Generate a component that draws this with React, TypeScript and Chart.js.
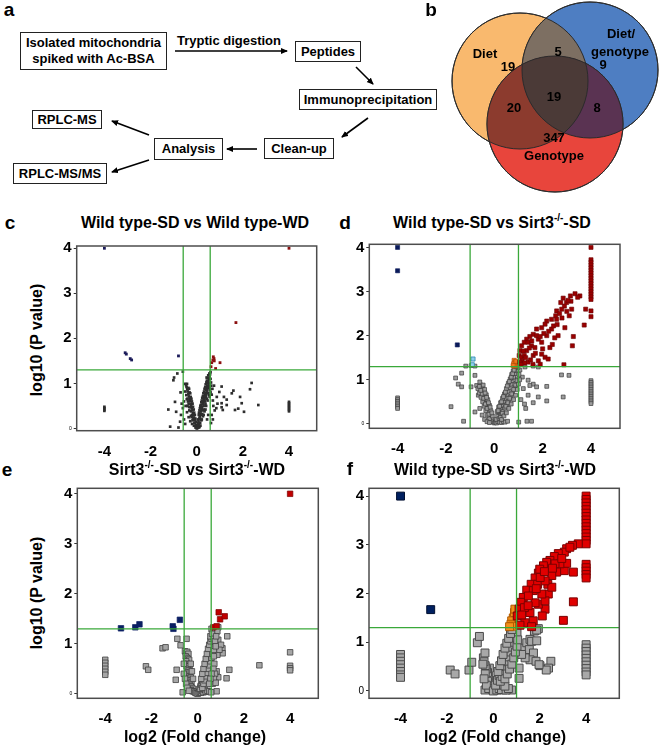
import React, { useEffect, useRef } from 'react';
import { Chart, registerables } from 'chart.js';
Chart.register(...registerables);

type Pt = [number, number];

const FONT = '"Liberation Sans", Arial, Helvetica, sans-serif';
const X_TICKS = [-4, -2, 0, 2, 4];
const Y_TICKS = [0, 1, 2, 3, 4];
const P_CUT = 1.3;
const FC_CUT_SMALL = 0.585;
const FC_CUT_LARGE = 1;

// ---------- Venn data ----------
const VENN_SETS = ['Diet', 'Diet/genotype', 'Genotype'];
// region counts: diet only, diet∩dg, dg only, diet∩geno, all, dg∩geno, geno only
const VENN_COUNTS = [19, 5, 9, 20, 19, 8, 347];

// ---------- Panel c: Wild type-SD vs Wild type-WD ----------
const C_DOWN: Pt[] = [[-4, 4.0], [-3.1, 1.68], [-3.05, 1.65], [-2.88, 1.55], [-2.82, 1.52], [-0.79, 1.61]];
const C_UP: Pt[] = [[4, 4.0], [1.7, 2.35], [0.72, 1.59], [0.75, 1.55], [0.76, 1.5], [0.65, 1.46], [1.01, 1.46], [0.82, 1.33], [0.62, 1.37], [0.7, 1.52]];
const C_NS: Pt[] = [
  [-4, 0.48], [-4, 0.45], [-4, 0.42], [-4, 0.39],
  [4, 0.59], [4, 0.56], [4, 0.53], [4, 0.5], [4, 0.47], [4, 0.44], [4, 0.41], [4, 0.38],
  [-1.23, 0.42], [-1.15, 0.04], [-1.01, 1.07], [-0.98, 1.13], [-0.94, 0.59], [-0.89, 0.37], [-0.84, 1.22], [-0.79, 0.02],
  [-0.72, 0.15], [-0.6, 1.26], [-0.68, 0.3], [-0.65, 0.55], [-0.7, 0.8], [-0.5, 0.99], [-0.42, 0.99], [-0.55, 0.6],
  [-0.6, 0.45], [-0.55, 0.2], [-0.5, 0.1],
  [-0.02, 0.03], [-0.04, 0.08], [-0.07, 0.13], [-0.09, 0.19], [-0.12, 0.24], [-0.14, 0.29], [-0.16, 0.34], [-0.19, 0.4],
  [-0.21, 0.45], [-0.24, 0.5], [-0.26, 0.55], [-0.29, 0.61], [-0.31, 0.66], [-0.34, 0.71], [-0.36, 0.76], [-0.39, 0.82],
  [-0.41, 0.87], [-0.44, 0.92], [-0.46, 0.96],
  [-0.1, 0.12], [-0.15, 0.2], [-0.2, 0.3], [-0.25, 0.38], [-0.3, 0.47], [-0.35, 0.55], [-0.4, 0.66], [-0.45, 0.74], [-0.5, 0.82],
  [-0.05, 0.02], [-0.12, 0.06], [-0.2, 0.1], [-0.28, 0.16], [-0.35, 0.25], [-0.42, 0.36], [-0.48, 0.5],
  [-0.08, 0.3], [-0.13, 0.42], [-0.18, 0.55], [-0.23, 0.66], [-0.28, 0.78], [-0.33, 0.88], [-0.22, 0.25], [-0.32, 0.4],
  [-0.03, 0.15], [-0.06, 0.22], [-0.11, 0.35], [-0.16, 0.48], [-0.21, 0.6], [-0.26, 0.7], [-0.31, 0.8], [-0.36, 0.9],
  [-0.18, 0.18], [-0.25, 0.28], [-0.33, 0.48], [-0.38, 0.6], [-0.43, 0.65], [-0.4, 0.5],
  [0.0, 0.0], [0.04, 0.01], [0.08, 0.02], [0.12, 0.03], [0.16, 0.06], [0.02, 0.04], [0.06, 0.06], [0.1, 0.08],
  [0.03, 0.07], [0.06, 0.12], [0.08, 0.17], [0.11, 0.22], [0.13, 0.27], [0.16, 0.33], [0.18, 0.38], [0.21, 0.43],
  [0.23, 0.48], [0.26, 0.54], [0.28, 0.59], [0.31, 0.64], [0.33, 0.69], [0.36, 0.74], [0.38, 0.79], [0.41, 0.85],
  [0.43, 0.9], [0.46, 0.95], [0.48, 1.0], [0.51, 1.05], [0.53, 1.1], [0.56, 1.15], [0.58, 1.2], [0.6, 1.25],
  [0.15, 0.22], [0.2, 0.3], [0.25, 0.4], [0.3, 0.5], [0.35, 0.6], [0.4, 0.7], [0.45, 0.8], [0.5, 0.9], [0.55, 1.0], [0.6, 1.1],
  [0.2, 0.18], [0.27, 0.27], [0.34, 0.38], [0.41, 0.5], [0.47, 0.62], [0.53, 0.74], [0.58, 0.86], [0.63, 0.95],
  [0.18, 0.52], [0.22, 0.62], [0.27, 0.72], [0.32, 0.82], [0.37, 0.92], [0.42, 1.02], [0.47, 1.12],
  [0.1, 0.35], [0.14, 0.45], [0.24, 0.32], [0.3, 0.42], [0.38, 0.55], [0.44, 0.66], [0.5, 0.78], [0.56, 0.9],
  [0.05, 0.2], [0.09, 0.3], [0.12, 0.4], [0.16, 0.5], [0.2, 0.58], [0.24, 0.68], [0.29, 0.78], [0.34, 0.88],
  [0.39, 0.98], [0.44, 1.06], [0.5, 1.18], [0.52, 0.95], [0.46, 0.85], [0.4, 0.75], [0.34, 0.65], [0.28, 0.55],
  [0.22, 0.45], [0.15, 0.12], [0.22, 0.2], [0.3, 0.3], [0.38, 0.42], [0.56, 0.7], [0.6, 0.8], [0.62, 1.02],
  [0.65, 0.75], [0.7, 0.62], [0.72, 0.5], [0.78, 0.4], [0.68, 0.88], [0.75, 0.95], [0.85, 0.45], [0.9, 0.55],
  [0.98, 0.81], [0.87, 0.7], [1.08, 0.93], [1.18, 0.7], [1.3, 0.64], [1.08, 0.56], [1.08, 0.47], [1.13, 0.41],
  [1.3, 0.52], [1.52, 0.78], [1.59, 0.84], [1.66, 0.41], [1.8, 0.44], [1.88, 0.7], [1.95, 0.56], [2.05, 0.37],
  [2.31, 0.87], [2.38, 1.01], [2.67, 0.52], [0.43, 1.13], [0.55, 1.22], [0.65, 0.3], [0.7, 0.2], [0.62, 0.12],
  [0.5, 0.3], [0.45, 0.2],
];

// ---------- Panel d: Wild type-SD vs Sirt3-/- -SD ----------
const D_DOWN: Pt[] = [[-4, 4.0], [-4, 3.47], [-1.53, 1.79]];
const D_DOWN_LIGHT: Pt[] = [[-0.88, 1.47], [-0.91, 1.34]];
const D_MID: Pt[] = [[0.82, 1.44], [0.86, 1.4], [0.8, 1.36], [0.88, 1.33], [0.84, 1.31], [0.9, 1.42], [0.78, 1.32]];
const D_UP: Pt[] = [
  [4, 4.0], [4, 3.72], [4, 3.66], [4, 3.6], [4, 3.54], [4, 3.48], [4, 3.42], [4, 3.36], [4, 3.3], [4, 3.24],
  [4, 3.18], [4, 3.12], [4, 3.06], [4, 3.0], [4, 2.94], [4, 2.88], [4, 2.82], [4, 2.56], [4, 2.43],
  [3.34, 2.95], [3.54, 2.9], [3.45, 2.87], [3.17, 2.78], [2.99, 2.75], [3.05, 2.8], [2.9, 2.67], [2.79, 2.6],
  [2.58, 2.56], [2.54, 2.45], [2.37, 2.37], [2.17, 2.33], [2.1, 2.26], [1.96, 2.18], [1.75, 2.15], [1.61, 2.03],
  [1.47, 1.98], [1.34, 1.92], [1.24, 1.85], [1.13, 1.77], [1.06, 1.66], [1.03, 1.55], [1.13, 1.51], [3.78, 2.6],
  [3.72, 2.24], [3.27, 1.98], [3.23, 1.77], [2.88, 1.34], [2.1, 1.51], [2.23, 1.47], [1.82, 1.43], [1.61, 1.55],
  [1.4, 1.4], [1.96, 1.58], [2.3, 1.73], [2.64, 2.0], [2.92, 2.18], [2.58, 2.37], [2.37, 2.15], [2.17, 2.0],
  [1.82, 1.92], [1.54, 1.77], [1.34, 1.66], [1.24, 1.55], [1.68, 1.73], [1.96, 1.85], [1.75, 2.0], [1.4, 1.85],
  [2.7, 2.5], [2.8, 2.4], [3.0, 2.55], [3.1, 2.45], [2.45, 2.22], [2.25, 2.1], [2.05, 2.05], [1.9, 1.98],
  [1.55, 1.88], [1.45, 1.72], [1.2, 1.65], [1.15, 1.42], [1.25, 1.38], [1.5, 1.45], [1.7, 1.6], [2.0, 1.7],
  [2.4, 1.8], [2.5, 1.95], [1.05, 1.4], [1.1, 1.35], [1.3, 1.5], [1.6, 1.35], [1.9, 1.35], [2.6, 2.25],
  [3.2, 2.6], [2.75, 2.75], [2.85, 2.85], [3.15, 2.9],
];
const D_NS: Pt[] = [
  [-4, 0.59], [-4, 0.55], [-4, 0.51], [-4, 0.47], [-4, 0.43], [-4, 0.39], [-4, 0.35],
  [4, 0.98], [4, 0.94], [4, 0.9], [4, 0.86], [4, 0.82], [4, 0.78], [4, 0.74], [4, 0.7], [4, 0.66], [4, 0.62],
  [4, 0.58], [4, 0.54], [4, 0.5], [4, 0.46],
  [-1.79, 0.39], [-1.6, 1.04], [-1.49, 0.9], [-1.35, 1.15], [-1.35, 0.84], [-1.27, 0.06], [-1.18, 1.31], [-0.96, 1.32],
  [-0.96, 0.84], [-0.8, 1.1], [-0.8, 0.27], [-0.73, 0.87], [-0.66, 0.65], [1.01, 0.04], [1.35, 0.06], [1.54, 0.06],
  [1.3, 0.35], [1.61, 0.48], [2.17, 0.52], [1.82, 0.61], [2.17, 0.85], [1.61, 0.9], [1.75, 0.84], [1.47, 0.87],
  [1.4, 0.99], [1.16, 1.06], [1.06, 1.22], [1.27, 1.29], [1.61, 1.31], [1.82, 1.29], [2.78, 1.11], [3.09, 1.1],
  [2.85, 0.61], [1.4, 0.65], [1.2, 0.8], [1.1, 0.55], [1.25, 0.45], [-0.8, 1.31],
  [-0.05, 0.05], [-0.1, 0.12], [-0.15, 0.2], [-0.2, 0.3], [-0.25, 0.38], [-0.3, 0.46], [-0.35, 0.55], [-0.4, 0.63],
  [-0.45, 0.72], [-0.5, 0.8], [-0.55, 0.88], [-0.6, 0.95],
  [-0.12, 0.05], [-0.2, 0.12], [-0.28, 0.2], [-0.35, 0.3], [-0.42, 0.4], [-0.48, 0.5], [-0.55, 0.6], [-0.62, 0.7], [-0.68, 0.8],
  [-0.08, 0.18], [-0.14, 0.3], [-0.2, 0.42], [-0.27, 0.55], [-0.33, 0.66], [-0.4, 0.78], [-0.46, 0.88],
  [-0.22, 0.22], [-0.3, 0.35], [-0.37, 0.45], [-0.44, 0.58], [-0.5, 0.68], [-0.56, 0.76], [-0.62, 0.85],
  [-0.1, 0.25], [-0.17, 0.38], [-0.24, 0.48], [-0.32, 0.6], [-0.38, 0.7],
  [-0.5, 0.2], [-0.6, 0.35], [-0.4, 0.1], [-0.3, 0.05],
  [0, 0.02], [0.05, 0.03], [0.1, 0.02], [0.15, 0.05], [0.22, 0.04], [0.3, 0.03], [0.38, 0.05], [0.45, 0.04], [0.55, 0.06], [-0.2, 0.03],
  [0.08, 0.1], [0.14, 0.18], [0.2, 0.26], [0.26, 0.34], [0.32, 0.42], [0.38, 0.5], [0.44, 0.58], [0.5, 0.66],
  [0.56, 0.74], [0.62, 0.82], [0.68, 0.9], [0.74, 0.98], [0.8, 1.06], [0.86, 1.14], [0.92, 1.22], [0.98, 1.28],
  [0.2, 0.12], [0.28, 0.2], [0.36, 0.28], [0.44, 0.36], [0.52, 0.44], [0.6, 0.52], [0.68, 0.62], [0.76, 0.72],
  [0.84, 0.82], [0.9, 0.92], [0.96, 1.02], [1.02, 1.12],
  [0.12, 0.28], [0.18, 0.38], [0.26, 0.48], [0.34, 0.58], [0.42, 0.68], [0.5, 0.8], [0.58, 0.92], [0.66, 1.02],
  [0.72, 1.12], [0.78, 1.2], [0.85, 1.26],
  [0.16, 0.3], [0.22, 0.4], [0.3, 0.5], [0.38, 0.62], [0.46, 0.72], [0.54, 0.86], [0.62, 0.96], [0.7, 1.06],
  [0.76, 1.14], [0.82, 1.22], [0.9, 1.3], [0.25, 0.15], [0.33, 0.24], [0.48, 0.4], [0.56, 0.48], [0.64, 0.58],
  [0.72, 0.68], [0.8, 0.78], [0.88, 0.88], [0.94, 0.98],
  [0.3, 0.1], [0.4, 0.18], [0.5, 0.25], [0.6, 0.35], [0.7, 0.45], [0.8, 0.55], [0.88, 0.65], [0.95, 0.78], [1.0, 0.9], [1.05, 1.0],
];

// ---------- Panel e: Sirt3-/- -SD vs Sirt3-/- -WD ----------
const E_DOWN: Pt[] = [[-3.32, 1.31], [-2.7, 1.33], [-2.52, 1.39], [-1.08, 1.35], [-1.05, 1.3], [-0.77, 1.48]];
const E_UP: Pt[] = [[4, 4.0], [0.91, 1.63], [0.97, 1.49], [1.17, 1.55], [0.68, 1.33], [0.82, 1.35]];
const E_NS: Pt[] = [
  [-4, 0.68], [-4, 0.62], [-4, 0.56], [-4, 0.5], [-4, 0.44], [-4, 0.38],
  [4, 0.83], [4, 0.56], [4, 0.51], [4, 0.47],
  [-2.24, 0.55], [-2.14, 0.48], [-1.52, 0.91], [-1.39, 0.93], [-0.88, 1.1], [-0.74, 0.97], [-0.48, 1.1],
  [-0.91, 0.48], [-0.95, 0.28], [-0.65, 0.03], [0.89, 1.33], [1.28, 1.15], [1.07, 0.91], [1.08, 0.81], [0.85, 0.78],
  [1.37, 0.48], [0.89, 0.33], [1.25, 0.31], [0.82, 0.45], [0.82, 0.05], [2.67, 0.57], [0.6, 1.3], [0.75, 1.28],
  [0.85, 1.25], [0.89, 1.08], [1.01, 0.98], [0.94, 0.88],
  [-0.55, 0.85], [-0.5, 0.82], [-0.45, 0.84], [-0.4, 0.8], [-0.52, 0.75], [-0.47, 0.72], [-0.42, 0.7], [-0.37, 0.68],
  [-0.5, 0.65], [-0.45, 0.6], [-0.4, 0.58], [-0.35, 0.55], [-0.48, 0.55], [-0.43, 0.5], [-0.38, 0.47], [-0.33, 0.44],
  [-0.45, 0.42], [-0.4, 0.38], [-0.35, 0.35], [-0.3, 0.33], [-0.42, 0.3], [-0.37, 0.27], [-0.32, 0.24], [-0.27, 0.22],
  [-0.35, 0.18], [-0.3, 0.15], [-0.25, 0.12], [-0.2, 0.1], [-0.28, 0.07], [-0.22, 0.05], [-0.15, 0.04], [-0.1, 0.02],
  [-0.05, 0.01], [-0.6, 0.6], [-0.6, 0.4], [-0.55, 0.3], [-0.5, 0.2], [-0.45, 0.12], [-0.38, 0.06], [-0.3, 0.6],
  [-0.25, 0.45], [-0.2, 0.3],
  [0, 0.0], [0.05, 0.02], [0.1, 0.04], [0.15, 0.02], [0.2, 0.05], [0.25, 0.03], [0.3, 0.08], [0.35, 0.04],
  [0.42, 0.06], [0.5, 0.05], [0.58, 0.03], [0.08, 0.1], [0.12, 0.15],
  [0.1, 0.1], [0.15, 0.18], [0.2, 0.25], [0.25, 0.33], [0.3, 0.4], [0.35, 0.48], [0.4, 0.56], [0.45, 0.63],
  [0.5, 0.7], [0.55, 0.78], [0.6, 0.86], [0.65, 0.95], [0.68, 1.02],
  [0.2, 0.12], [0.25, 0.2], [0.3, 0.27], [0.35, 0.35], [0.4, 0.42], [0.45, 0.5], [0.5, 0.57], [0.55, 0.65],
  [0.6, 0.72], [0.65, 0.8], [0.7, 0.88], [0.72, 0.96],
  [0.15, 0.3], [0.2, 0.4], [0.25, 0.5], [0.3, 0.6], [0.35, 0.7], [0.4, 0.8], [0.45, 0.9], [0.5, 0.98], [0.55, 1.05],
  [0.6, 1.1], [0.65, 1.15], [0.55, 1.15], [0.62, 1.2], [0.7, 1.1], [0.75, 1.05], [0.8, 1.15], [0.78, 0.95],
  [0.7, 0.75], [0.72, 0.6], [0.68, 0.5], [0.75, 0.4], [0.7, 0.3], [0.65, 0.2], [0.78, 0.22], [0.6, 0.4],
  [0.55, 0.3], [0.5, 0.2],
];

// ---------- Panel f: Wild type-SD vs Sirt3-/- -WD ----------
const F_DOWN: Pt[] = [[-4, 4.0], [-2.7, 1.67]];
const F_MID: Pt[] = [[0.86, 1.5], [0.79, 1.44], [0.76, 1.37], [0.91, 1.61], [0.93, 1.68], [0.83, 1.33], [0.7, 1.32]];
const F_UP: Pt[] = [
  [4, 4.0], [4, 3.93], [4, 3.86], [4, 3.79], [4, 3.72], [4, 3.65], [4, 3.58], [4, 3.51], [4, 3.44], [4, 3.37],
  [4, 3.3], [4, 3.23], [4, 3.16], [4, 3.09], [4, 3.02], [4, 2.6], [4, 2.53], [4, 2.46], [4, 2.39], [4, 2.32],
  [3.66, 3.02], [3.41, 2.99], [3.16, 2.92], [3.06, 2.85], [2.8, 2.82], [2.63, 2.76], [2.44, 2.68], [2.3, 2.64],
  [2.16, 2.57], [1.94, 2.42], [1.8, 2.32], [1.63, 2.19], [1.44, 2.07], [1.29, 1.92], [1.19, 1.82], [1.11, 1.68],
  [1.03, 1.54], [3.45, 2.44], [3.06, 2.47], [3.16, 2.62], [2.87, 2.61], [2.66, 2.61], [2.73, 2.44], [2.52, 2.37],
  [2.35, 2.19], [2.37, 1.99], [2.23, 1.68], [2.11, 1.54], [1.72, 1.44], [1.36, 1.4], [1.58, 1.61], [1.94, 1.78],
  [2.23, 1.85], [2.09, 1.99], [1.8, 1.81], [1.91, 2.19], [1.72, 2.06], [1.51, 1.95], [1.34, 1.71], [1.22, 1.56],
  [3.02, 1.45], [3.45, 1.83], [2.52, 2.13], [2.23, 2.26], [2.02, 2.33], [2.95, 2.72], [3.3, 2.95], [2.55, 2.52],
  [1.65, 1.32], [1.15, 1.35], [1.5, 1.75], [1.85, 2.1], [2.0, 2.5], [2.2, 2.45],
];
const F_NS: Pt[] = [
  [-4, 0.75], [-4, 0.68], [-4, 0.61], [-4, 0.54], [-4, 0.47], [-4, 0.4], [-4, 0.33], [-4, 0.28],
  [4, 0.95], [4, 0.88], [4, 0.81], [4, 0.74], [4, 0.67], [4, 0.6], [4, 0.53], [4, 0.46], [4, 0.39], [4, 0.33],
  [-1.86, 0.43], [-1.65, 0.35], [-1.05, 0.43], [-0.93, 0.59], [-0.69, 0.99], [-0.6, 1.12], [-0.43, 0.68], [-0.36, 0.78],
  [-0.17, 0.47], [-0.29, 0.3], [-0.36, 0.02], [0.07, 0.02], [0.43, 0.02], [0.79, 0.02], [1.11, 0.26], [1.11, 0.47],
  [1.29, 0.88], [1.44, 0.99], [1.58, 1.06], [1.77, 1.23], [1.94, 1.28], [1.55, 0.85], [1.73, 0.78], [1.58, 0.64],
  [1.84, 0.61], [2.01, 0.52], [2.48, 0.61], [2.38, 0.47], [2.28, 0.43], [1.37, 0.68], [1.22, 0.75], [1.87, 1.25],
  [1.65, 1.02], [1.87, 1.03], [1.97, 0.54],
  [-0.05, 0.08], [-0.1, 0.15], [-0.15, 0.22], [-0.2, 0.3], [-0.25, 0.38], [-0.3, 0.45], [-0.35, 0.52], [-0.4, 0.6],
  [-0.45, 0.55], [-0.35, 0.35], [-0.25, 0.2], [-0.15, 0.1], [-0.2, 0.05], [-0.3, 0.12], [-0.4, 0.25],
  [0.0, 0.0], [0.15, 0.02], [0.25, 0.05], [0.35, 0.03], [0.55, 0.02], [0.65, 0.05], [0.3, 0.12], [0.5, 0.1],
  [0.1, 0.12], [0.18, 0.22], [0.25, 0.32], [0.32, 0.42], [0.4, 0.52], [0.47, 0.62], [0.55, 0.72], [0.62, 0.82],
  [0.7, 0.92], [0.77, 1.02], [0.85, 1.12], [0.92, 1.22], [0.98, 1.3],
  [0.3, 0.2], [0.38, 0.3], [0.45, 0.4], [0.52, 0.5], [0.6, 0.6], [0.68, 0.7], [0.75, 0.8], [0.82, 0.9],
  [0.9, 1.0], [0.95, 1.1], [1.02, 1.2],
  [0.5, 0.25], [0.6, 0.35], [0.7, 0.45], [0.8, 0.55], [0.88, 0.68], [0.95, 0.8], [1.02, 0.92], [1.05, 1.05],
  [0.2, 0.4], [0.28, 0.52], [0.35, 0.62], [0.42, 0.75], [0.5, 0.88], [0.58, 0.98], [0.66, 1.08], [0.74, 1.18], [0.8, 1.26],
];

// ---------- styling ----------
const GREEN = '#3aa83a';

interface SeriesSpec { data: Pt[]; fill: string; stroke: string; r: number; bw: number }
interface VolcanoProps {
  box: number[]; area: number[]; xr: number[]; yr: number[]; fc: number;
  series: SeriesSpec[]; zeroSize: number; zeroWeight: string;
}

const framePlugin = {
  id: 'frame',
  afterDatasetsDraw(chart: any) {
    const { ctx, chartArea: a } = chart;
    ctx.save();
    ctx.strokeStyle = '#4d4d4d';
    ctx.lineWidth = 1.5;
    ctx.strokeRect(a.left, a.top, a.right - a.left, a.bottom - a.top);
    ctx.restore();
  },
};

function Volcano(p: VolcanoProps) {
  const ref = useRef<HTMLCanvasElement>(null);
  useEffect(() => {
    const [bx, by, bw, bh] = p.box;
    const [al, at, ar, ab] = p.area;
    const yW = al - bx;
    const xH = by + bh - ab;
    const lineDs = (data: any[]) => ({
      type: 'line', data, borderColor: GREEN, borderWidth: 1.3, pointRadius: 0,
      showLine: true, fill: false, order: 0, clip: false,
    });
    const datasets: any[] = [
      lineDs([{ x: -p.fc, y: p.yr[0] }, { x: -p.fc, y: p.yr[1] }]),
      lineDs([{ x: p.fc, y: p.yr[0] }, { x: p.fc, y: p.yr[1] }]),
      lineDs([{ x: p.xr[0], y: P_CUT }, { x: p.xr[1], y: P_CUT }]),
      ...p.series.map((s, i) => ({
        type: 'scatter',
        data: s.data.map(([x, y]) => ({ x, y })),
        pointStyle: 'rect', pointRadius: s.r, pointHoverRadius: s.r,
        backgroundColor: s.fill, borderColor: s.stroke, borderWidth: s.bw,
        order: i + 1, clip: false,
      })),
    ];
    const baseFont = { family: FONT, size: 15, weight: 'bold' };
    const yFont = (ctx: any) =>
      ctx.tick && ctx.tick.value === 0
        ? { family: FONT, size: p.zeroSize, weight: p.zeroWeight }
        : baseFont;
    const chart = new Chart(ref.current as HTMLCanvasElement, {
      type: 'scatter',
      data: { datasets },
      options: {
        animation: false,
        responsive: false,
        events: [],
        layout: { autoPadding: false, padding: { left: 0, top: at - by, right: bx + bw - ar, bottom: 0 } },
        plugins: { legend: { display: false }, tooltip: { enabled: false } },
        scales: {
          x: {
            type: 'linear', min: p.xr[0], max: p.xr[1],
            afterBuildTicks: (s: any) => { s.ticks = X_TICKS.map((v) => ({ value: v })); },
            afterFit: (s: any) => { s.height = xH; },
            ticks: { font: baseFont, color: '#000', padding: 4, maxRotation: 0, autoSkip: false },
            grid: { display: false },
            border: { display: false },
          },
          y: {
            type: 'linear', min: p.yr[0], max: p.yr[1],
            afterBuildTicks: (s: any) => { s.ticks = Y_TICKS.map((v) => ({ value: v })); },
            afterFit: (s: any) => { s.width = yW; },
            ticks: { font: yFont as any, color: '#000', padding: 2, autoSkip: false },
            grid: { display: true, drawOnChartArea: false, drawTicks: true, tickLength: 3, color: '#333' },
            border: { display: false },
          },
        },
      } as any,
      plugins: [framePlugin],
    });
    return () => chart.destroy();
  }, []);
  const [bx, by, bw, bh] = p.box;
  return (
    <canvas ref={ref} width={bw} height={bh}
      style={{ position: 'absolute', left: bx, top: by, width: bw, height: bh }} />
  );
}

// ---------- Venn ----------
const VENN_FILL = ['#f9b96e', '#4e7ec2', '#e8453c'];
const VENN_PAIR = ['#7d6f62', '#8c3b2e', '#5a3352']; // diet∩dg, diet∩geno, dg∩geno
const VENN_CENTER = '#4b3a37';
const VENN_GEOM: number[][] = [[100, 81, 68], [170, 70, 68], [135, 124, 68]];

const vennPlugin = {
  id: 'vennRegions',
  afterDatasetsDraw(chart: any) {
    const ctx = chart.ctx;
    const els = chart.getDatasetMeta(0).data as any[];
    const c = els.map((e) => ({ x: e.x, y: e.y, r: e.options.radius }));
    const path = (i: number) => { ctx.beginPath(); ctx.arc(c[i].x, c[i].y, c[i].r, 0, Math.PI * 2); };
    const pairs: [number, number, string][] = [[0, 1, VENN_PAIR[0]], [0, 2, VENN_PAIR[1]], [1, 2, VENN_PAIR[2]]];
    pairs.forEach(([a, b, col]) => {
      ctx.save(); path(a); ctx.clip(); path(b); ctx.fillStyle = col; ctx.fill(); ctx.restore();
    });
    ctx.save(); path(0); ctx.clip(); path(1); ctx.clip(); path(2); ctx.fillStyle = VENN_CENTER; ctx.fill(); ctx.restore();
    ctx.save();
    ctx.strokeStyle = '#2b2b2b'; ctx.lineWidth = 1;
    [0, 1, 2].forEach((i) => { path(i); ctx.stroke(); });
    ctx.restore();
  },
};

function Venn() {
  const ref = useRef<HTMLCanvasElement>(null);
  useEffect(() => {
    const chart = new Chart(ref.current as HTMLCanvasElement, {
      type: 'bubble',
      data: {
        labels: VENN_SETS,
        datasets: [{
          data: VENN_GEOM.map(([x, y, r]) => ({ x, y, r })),
          backgroundColor: VENN_FILL, borderColor: '#2b2b2b', borderWidth: 1,
          radius: 0, hoverRadius: 0, clip: false,
        }],
      },
      options: {
        animation: false, responsive: false, events: [],
        layout: { autoPadding: false, padding: 0 },
        plugins: { legend: { display: false }, tooltip: { enabled: false } },
        scales: {
          x: { display: false, min: 0, max: 240 },
          y: { display: false, min: 0, max: 195, reverse: true },
        },
      } as any,
      plugins: [vennPlugin],
    });
    return () => chart.destroy();
  }, []);
  return <canvas ref={ref} width={240} height={195} style={{ position: 'absolute', left: 420, top: 0, width: 240, height: 195 }} />;
}

// ---------- HTML helpers ----------
function Txt(props: { x: number; y: number; size?: number; rot?: number; children: any; color?: string }) {
  const { x, y, size = 16, rot = 0, children, color = '#000' } = props;
  return (
    <div style={{
      position: 'absolute', left: x, top: y, transform: `translate(-50%,-50%) rotate(${rot}deg)`,
      fontSize: size, fontWeight: 700, whiteSpace: 'nowrap', lineHeight: 1.1, fontFamily: FONT, color,
      textAlign: 'center',
    }}>{children}</div>
  );
}

function Sup() {
  return <span style={{ fontSize: 10, position: 'relative', top: -7 }}>-/-</span>;
}

function Box(props: { l: number; t: number; r: number; b: number; children: any }) {
  const { l, t, r, b, children } = props;
  return (
    <div style={{
      position: 'absolute', left: l, top: t, width: r - l, height: b - t, boxSizing: 'border-box',
      border: '1.5px solid #222', display: 'flex', alignItems: 'center', justifyContent: 'center',
      textAlign: 'center', fontSize: 13, fontWeight: 700, lineHeight: 1.2, fontFamily: FONT, background: '#fff',
    }}>{children}</div>
  );
}

const ARROWS: number[][] = [
  [175, 51, 287, 51], [356, 67, 373, 84], [368, 118, 342, 137], [257, 149, 227, 149],
  [149, 135, 112, 121], [149, 160, 112, 172],
];

export default function App() {
  return (
    <div style={{ position: 'absolute', left: 0, top: 0, width: 660, height: 748, background: '#fff', overflow: 'hidden', fontFamily: FONT }}>
      {/* panel a */}
      <Txt x={9} y={10} size={19}>a</Txt>
      <Box l={20} t={32} r={167} b={70}>Isolated mitochondria<br />spiked with Ac-BSA</Box>
      <Txt x={229} y={41} size={13}>Tryptic digestion</Txt>
      <Box l={295} t={41} r={361} b={62}>Peptides</Box>
      <Box l={299} t={89} r={437} b={110}>Immunoprecipitation</Box>
      <Box l={264} t={138} r={334} b={159}>Clean-up</Box>
      <Box l={154} t={138} r={223} b={160}>Analysis</Box>
      <Box l={32} t={110} r={102} b={129}>RPLC-MS</Box>
      <Box l={13} t={163} r={107} b={184}>RPLC-MS/MS</Box>
      <svg width={660} height={200} style={{ position: 'absolute', left: 0, top: 0 }}>
        <defs>
          <marker id="ah" markerWidth="8" markerHeight="8" refX="6" refY="3" orient="auto" markerUnits="userSpaceOnUse">
            <path d="M0,0 L7,3 L0,6 z" fill="#000" />
          </marker>
        </defs>
        {ARROWS.map((a, i) => (
          <line key={i} x1={a[0]} y1={a[1]} x2={a[2]} y2={a[3]} stroke="#000" strokeWidth={1.6} markerEnd="url(#ah)" />
        ))}
      </svg>

      {/* panel b */}
      <Venn />
      <Txt x={431} y={10} size={19}>b</Txt>
      <Txt x={485} y={54} size={13}>{VENN_SETS[0]}</Txt>
      <Txt x={508} y={67} size={13}>{VENN_COUNTS[0]}</Txt>
      <Txt x={558} y={52} size={13}>{VENN_COUNTS[1]}</Txt>
      <Txt x={621} y={34} size={13}>Diet/</Txt>
      <Txt x={620} y={52} size={13}>genotype</Txt>
      <Txt x={603} y={65} size={13}>{VENN_COUNTS[2]}</Txt>
      <Txt x={514} y={108} size={13}>{VENN_COUNTS[3]}</Txt>
      <Txt x={554} y={97} size={13}>{VENN_COUNTS[4]}</Txt>
      <Txt x={597} y={108} size={13}>{VENN_COUNTS[5]}</Txt>
      <Txt x={554} y={138} size={13}>{VENN_COUNTS[6]}</Txt>
      <Txt x={554} y={156} size={13}>{VENN_SETS[2]}</Txt>

      {/* panel c */}
      <Txt x={10} y={223} size={19}>c</Txt>
      <Txt x={195} y={223}>Wild type-SD vs Wild type-WD</Txt>
      <Txt x={37} y={340} rot={-90}>log10 (P value)</Txt>
      <Volcano box={[48, 232, 280, 230]} area={[76.7, 246, 316.7, 430.7]} xr={[-5.2, 5.2]} yr={[-0.05, 4.05]}
        fc={FC_CUT_SMALL} zeroSize={5} zeroWeight="normal"
        series={[
          { data: C_UP, fill: '#8b1010', stroke: '#8b1010', r: 2.0, bw: 0 },
          { data: C_DOWN, fill: '#1c1c5a', stroke: '#1c1c5a', r: 2.0, bw: 0 },
          { data: C_NS, fill: '#2e2e2e', stroke: '#2e2e2e', r: 1.9, bw: 0 },
        ]} />

      {/* panel d */}
      <Txt x={345} y={223} size={19}>d</Txt>
      <Txt x={492} y={223}>Wild type-SD vs Sirt3<Sup />-SD</Txt>
      <Volcano box={[340, 230, 300, 232]} area={[369.3, 244.3, 620, 428.3]} xr={[-5.17, 5.2]} yr={[-0.1, 4.07]}
        fc={FC_CUT_LARGE} zeroSize={5} zeroWeight="normal"
        series={[
          { data: D_UP, fill: '#9a0000', stroke: '#6a0000', r: 2.9, bw: 0.6 },
          { data: D_MID, fill: '#f07820', stroke: '#b04a00', r: 2.9, bw: 0.6 },
          { data: D_DOWN_LIGHT, fill: '#8fd0ea', stroke: '#2f86b0', r: 2.9, bw: 0.8 },
          { data: D_DOWN, fill: '#0a1a5a', stroke: '#0a1a5a', r: 2.9, bw: 0.6 },
          { data: D_NS, fill: '#9c9c9c', stroke: '#3a3a3a', r: 2.7, bw: 0.7 },
        ]} />

      {/* panel e */}
      <Txt x={7} y={470} size={19}>e</Txt>
      <Txt x={197} y={470}>Sirt3<Sup />-SD vs Sirt3<Sup />-WD</Txt>
      <Txt x={37} y={593} rot={-90}>log10 (P value)</Txt>
      <Volcano box={[48, 474, 282, 250]} area={[77.3, 488.3, 318.3, 698.3]} xr={[-5.21, 5.22]} yr={[-0.09, 4.11]}
        fc={FC_CUT_SMALL} zeroSize={5} zeroWeight="normal"
        series={[
          { data: E_UP, fill: '#c00000', stroke: '#7a0000', r: 3.9, bw: 0.7 },
          { data: E_DOWN, fill: '#0b1f63', stroke: '#0b1f63', r: 3.9, bw: 0.7 },
          { data: E_NS, fill: '#a6a6a6', stroke: '#404040', r: 3.9, bw: 0.8 },
        ]} />
      <Txt x={195} y={737}>log2 (Fold change)</Txt>

      {/* panel f */}
      <Txt x={350} y={469} size={19}>f</Txt>
      <Txt x={495} y={470}>Wild type-SD vs Sirt3<Sup />-WD</Txt>
      <Volcano box={[340, 474, 300, 250]} area={[369, 488.3, 619.3, 698.3]} xr={[-5.36, 5.43]} yr={[-0.15, 4.16]}
        fc={FC_CUT_LARGE} zeroSize={10} zeroWeight="normal"
        series={[
          { data: F_UP, fill: '#e00000', stroke: '#7a0000', r: 5.6, bw: 1 },
          { data: F_MID, fill: '#f39019', stroke: '#b05a00', r: 5.6, bw: 1 },
          { data: F_DOWN, fill: '#002060', stroke: '#001030', r: 5.6, bw: 1 },
          { data: F_NS, fill: '#a8a8a8', stroke: '#4a4a4a', r: 5.6, bw: 1 },
        ]} />
      <Txt x={495} y={737}>log2 (Fold change)</Txt>
    </div>
  );
}
